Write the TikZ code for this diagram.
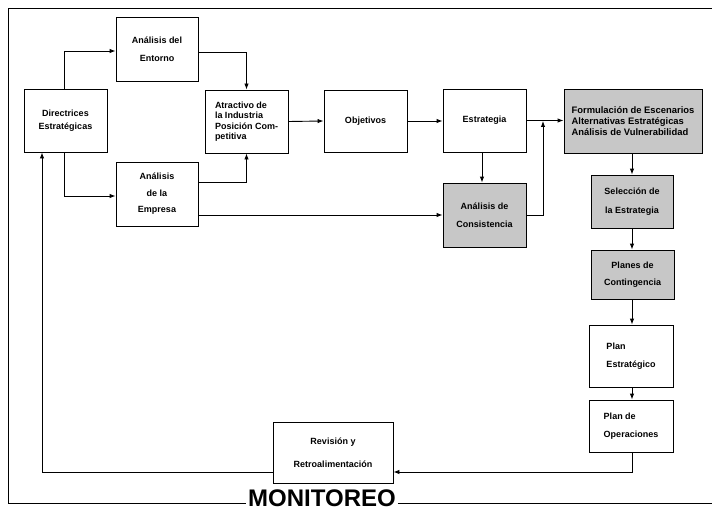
\documentclass[tikz,border=0pt]{standalone}
\usepackage{fontspec}
\setmainfont{Liberation Sans}
\usetikzlibrary{arrows.meta}
\begin{document}
\begin{tikzpicture}[x=1pt,y=-1pt,
  box/.style={draw, line width=0.9pt, inner sep=1pt, font=\bfseries\fontsize{9}{10.5}\selectfont, align=center},
  shaded/.style={box, fill=black!22},
  arr/.style={line width=0.9pt, -{Latex[length=6pt,width=4.5pt]}},
  ln/.style={line width=0.9pt}]
\useasboundingbox (0,0) rectangle (712,516);
% boxes
\node[box, minimum width=83, minimum height=63] (dir) at (65.5,120.5) {Directrices\\[2pt]Estratégicas};
\node[box, minimum width=82, minimum height=64] (ent) at (157,49) {Análisis del\\[7pt]Entorno};
\node[box, minimum width=82, minimum height=64] (emp) at (157,194) {Análisis\\[6pt]de la\\[6pt]Empresa};
\node[box, minimum width=83, minimum height=63, align=left] (atr) at (246.5,121.5) {Atractivo de\\[0pt]la Industria\\[0pt]Posición Com-\\[0pt]petitiva};
\node[box, minimum width=83, minimum height=62] (obj) at (365.5,121) {Objetivos};
\node[box, minimum width=83, minimum height=63] (est) at (484.5,120.5) {Estrategia};
\node[shaded, minimum width=138, minimum height=64, align=left, font=\bfseries\fontsize{9.4}{11}\selectfont] (form) at (633,121) {Formulación de Escenarios\\[0pt]Alternativas Estratégicas\\[0pt]Análisis de Vulnerabilidad};
\node[shaded, minimum width=83, minimum height=64] (cons) at (484.5,215) {Análisis de\\[7pt]Consistencia};
\node[shaded, minimum width=82, minimum height=53] (sel) at (632,201.5) {Selección de\\[8pt]la Estrategia};
\node[shaded, minimum width=83, minimum height=49] (plc) at (632.5,274.5) {Planes de\\[6pt]Contingencia};
\node[box, minimum width=84, minimum height=62, align=left] (pest) at (631,356) {Plan\\[8pt]Estratégico};
\node[box, minimum width=84, minimum height=52, align=left] (pop) at (631,426) {Plan de\\[8pt]Operaciones};
\node[box, minimum width=120, minimum height=61] (rev) at (333,452.5) {Revisión y\\[13pt]Retroalimentación};
% frame
\node[font=\bfseries\fontsize{24}{28}\selectfont, inner sep=2pt] (mon) at (322,498) {MONITOREO};
\coordinate (tl) at (8,8);
\coordinate (tr) at (712,8);
\coordinate (bl) at (8,503);
\coordinate (br) at (712,503);
\draw[ln] (tr) -- (tl) -- (bl) -- (bl -| mon.west);
\draw[ln] (br -| mon.east) -- (br);
% connectors
\draw[arr] ([xshift=-1.5]dir.north) |- ([yshift=-2]ent.west);
\draw[arr] ([xshift=-1.5]dir.south) |- ([yshift=-2]emp.west);
\draw[arr] ([yshift=-3]ent.east) -| (atr.north);
\draw[arr] ([yshift=12]emp.east) -| (atr.south);
\draw[arr] (emp.east |- cons.west) -- (cons.west);
\draw[arr] (atr.east) -- (obj.west);
\draw[arr] (obj.west -| obj.east) -- (est.west |- obj.east);
\draw[arr] (est.east) -- (form.west |- est.east);
\coordinate (j) at (543,121);
\draw[arr] (cons.east) -| (j);
\draw[arr] ([xshift=-2.5]est.south) -- ([xshift=-2.5]cons.north);
\draw[arr] (sel.north |- form.south) -- (sel.north);
\draw[arr] (sel.south) -- (sel.south |- plc.north);
\draw[arr] (sel.south |- plc.south) -- (sel.south |- pest.north);
\draw[arr] (sel.south |- pest.south) -- (sel.south |- pop.north);
\coordinate (fb) at (632,472);
\draw[arr] (sel.south |- pop.south) -- (fb) -- (fb -| rev.east);
\draw[arr] (fb -| rev.west) -| ([xshift=-23.5]dir.south);
\end{tikzpicture}
\end{document}
